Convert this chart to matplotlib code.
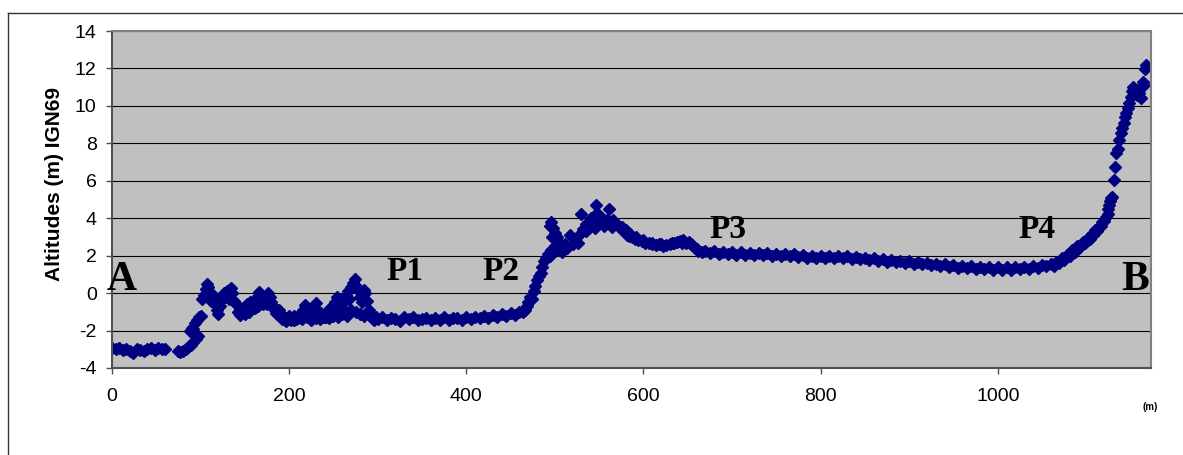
"""
Profil en long A-B, altitudes IGN69
"""
import matplotlib
matplotlib.use('Agg')
from matplotlib import pyplot as plt
from matplotlib.lines import Line2D

plt.rcParams['axes.unicode_minus'] = False

dist = [
    0, 4, 8, 12, 16, 20, 24, 28, 32, 36, 40, 44, 48, 52, 56, 60,
    74, 77, 80, 83, 86, 89, 92, 95, 97,
    88, 90, 92, 94, 96, 98, 100,
    102, 104, 106, 107, 108, 110, 112, 114, 116, 118, 120, 122, 124, 126, 128, 130,
    132, 134, 136, 138, 140, 142, 144, 146, 148, 150, 152, 154, 156, 158, 160, 162,
    164, 166, 168, 170, 172, 174, 176, 178, 180, 182, 184, 186, 188, 190, 192, 194,
    196, 198, 200, 202, 204, 206, 208, 210, 212, 214, 216, 218, 220, 222, 224, 226,
    228, 230, 232, 234, 236, 238, 240, 242, 244, 246, 248, 250, 252, 254, 256, 258,
    260, 262, 264, 266, 268, 270, 272, 274, 276, 278, 280, 282, 284, 286, 288, 290,
    292, 294, 296, 298,
    195, 200, 205, 210, 215, 220, 225, 230, 235, 240, 245, 250, 255, 260, 265, 270,
    275, 280, 285,
    145, 155, 165, 175, 185,
    300, 305, 310, 315, 320, 325, 330, 335, 340, 345, 350, 355, 360, 365, 370, 375,
    380, 385, 390, 395, 400, 405, 410, 415, 420, 425, 430, 435, 440, 445, 450, 455,
    460, 464,
    466, 468, 470, 472, 474, 476, 478, 480, 482, 484, 486, 488, 490, 492, 494, 496,
    498, 500,
    494, 496, 497, 498, 500, 502, 504, 506,
    502, 505, 508, 511, 514, 517, 520, 523, 526, 529, 530, 532, 535, 538, 541, 544,
    546, 548, 550, 553, 556, 559, 561, 563, 566, 569, 572, 575, 578, 581, 584, 587,
    590, 594, 598, 602, 606, 610, 614, 618, 622, 626, 630, 634, 638, 641, 644, 648,
    651, 654, 658, 662, 666,
    576, 580, 585, 592, 600, 610, 620, 632, 645, 655, 660,
    535, 545, 555, 565,
    670, 675, 680, 685, 690, 695, 700, 705, 710, 715, 720, 725, 730, 735, 740, 745,
    750, 755, 760, 765, 770, 775, 780, 785, 790, 795, 800, 805, 810, 815, 820, 825,
    830, 835, 840, 845, 850, 855, 860, 865, 870, 875, 880, 885, 890, 895, 900, 905,
    910, 915, 920, 925, 930, 935, 940, 945, 950, 955, 960, 965, 970, 975, 980, 985,
    990, 995, 1000, 1005, 1010, 1015, 1020, 1025, 1030, 1035, 1040, 1045, 1050, 1055,
    1060, 1063, 1066, 1069, 1072, 1075, 1078, 1081, 1084, 1087, 1090, 1093, 1096, 1099,
    1102, 1104, 1106, 1108, 1110, 1112, 1114, 1116, 1118, 1120, 1122, 1124, 1125, 1126,
    1127, 1128,
    1129, 1131, 1132, 1134, 1136, 1137, 1139, 1140, 1142, 1144, 1145, 1147, 1148, 1150,
    1152, 1153, 1155, 1157, 1159, 1160, 1162, 1164, 1165, 1166, 1167,
]
alt = [
    -2.95, -3.0, -2.95, -3.05, -3.0, -3.1, -3.2, -3.0, -3.05, -3.1, -3.0, -2.95, -3.05, -2.95, -3.0, -3.0,
    -3.1, -3.15, -3.1, -3.0, -2.9, -2.75, -2.6, -2.45, -2.3,
    -2.0, -1.85, -1.9, -1.6, -1.45, -1.3, -1.2,
    -0.3, -0.1, 0.2, 0.5, 0.35, -0.2, -0.4, -0.1, -0.6, -0.9, -1.1, -0.7, -0.3, 0.0, -0.2, 0.1,
    -0.3, 0.25, 0.0, -0.4, -0.6, -1.0, -1.15, -1.0, -0.8, -1.1, -0.6, -0.9, -0.5, -0.7, -0.4, -0.8,
    -0.2, 0.05, -0.3, -0.6, -0.2, -0.5, 0.0, -0.2, -0.5, -0.7, -0.9, -1.1, -0.9, -1.2, -1.4, -1.3,
    -1.5, -1.35, -1.2, -1.45, -1.3, -1.2, -1.4, -1.25, -1.1, -1.35, -0.9, -0.65, -1.0, -1.3, -1.15, -1.4,
    -0.8, -0.55, -0.9, -1.2, -1.05, -1.3, -1.15, -1.3, -1.0, -0.8, -1.1, -1.0, -0.5, -0.2, -0.9, -0.3,
    -0.8, -0.5, -0.1, 0.1, -0.3, 0.3, 0.55, 0.75, 0.4, 0.15, -0.2, -0.5, 0.15, 0.0, -0.4, -0.9,
    -1.2, -1.35, -1.45, -1.3,
    -1.45, -1.4, -1.45, -1.35, -1.4, -1.3, -1.45, -1.35, -1.4, -1.3, -1.35, -1.2, -1.3, -1.1, -1.2, -0.9,
    -1.0, -1.1, -1.2,
    -0.85, -1.0, -0.7, -0.6, -1.05,
    -1.40, -1.28, -1.44, -1.31, -1.37, -1.47, -1.30, -1.40, -1.28, -1.44, -1.36, -1.31, -1.46, -1.33, -1.42, -1.29,
    -1.45, -1.35, -1.31, -1.43, -1.28, -1.38, -1.25, -1.35, -1.22, -1.32, -1.18, -1.27, -1.13, -1.24, -1.08, -1.18,
    -1.03, -1.0,
    -0.9, -0.7, -0.5, -0.2, -0.3, 0.1, 0.4, 0.7, 0.9, 1.1, 1.4, 1.7, 1.9, 2.1, 2.0, 2.3,
    2.2, 2.5,
    3.6, 3.8, 3.0, 3.5, 3.2, 3.0, 2.8, 2.6,
    2.3, 2.5, 2.2, 2.6, 2.4, 3.1, 2.6, 2.8, 2.7, 3.2, 4.2, 3.4, 3.7, 3.5, 4.0, 3.7,
    4.7, 4.3, 3.8, 4.0, 3.7, 3.9, 4.5, 3.8, 3.9, 3.7, 3.6, 3.4, 3.3, 3.1, 3.05, 3.0,
    2.9, 2.85, 2.8, 2.7, 2.65, 2.6, 2.55, 2.6, 2.5, 2.55, 2.6, 2.65, 2.75, 2.8, 2.7, 2.65,
    2.75, 2.6, 2.4, 2.25, 2.2,
    3.55, 3.35, 3.15, 3.0, 2.85, 2.7, 2.62, 2.7, 2.82, 2.55, 2.35,
    3.3, 3.5, 3.6, 3.55,
    2.27, 2.13, 2.24, 2.10, 2.20, 2.08, 2.18, 2.06, 2.17, 2.04, 2.14, 2.03, 2.14, 2.02, 2.12, 2.00,
    2.10, 1.98, 2.09, 1.96, 2.07, 1.94, 2.04, 1.90, 2.00, 1.86, 1.97, 1.85, 1.98, 1.86, 1.99, 1.87,
    1.97, 1.84, 1.94, 1.81, 1.90, 1.76, 1.86, 1.72, 1.82, 1.68, 1.78, 1.64, 1.74, 1.60, 1.70, 1.56,
    1.66, 1.53, 1.62, 1.48, 1.58, 1.44, 1.54, 1.40, 1.50, 1.36, 1.47, 1.33, 1.44, 1.30, 1.42, 1.28,
    1.40, 1.26, 1.38, 1.26, 1.39, 1.26, 1.38, 1.28, 1.40, 1.30, 1.44, 1.36, 1.50, 1.43,
    1.55, 1.45, 1.68, 1.6, 1.85, 1.78, 2.05, 1.98, 2.3, 2.22, 2.5, 2.45, 2.75, 2.68,
    2.95, 2.9, 3.15, 3.1, 3.35, 3.3, 3.55, 3.6, 3.8, 3.85, 4.05, 4.2, 4.5, 4.7,
    4.9, 5.1,
    5.15, 6.05, 6.75, 7.5, 7.7, 8.2, 8.55, 8.8, 9.1, 9.4, 9.6, 9.9, 10.15, 10.5,
    10.8, 11.0, 10.7, 10.6, 10.7, 10.9, 10.4, 11.3, 11.1, 11.95, 12.2,
]

xTicks = [0, 200, 400, 600, 800, 1000]
yTicks = [-4, -2, 0, 2, 4, 6, 8, 10, 12, 14]
labels = ['A', 'P1', 'P2', 'P3', 'P4', 'B']
labelX = [-5.6, 309.6, 418, 674.6, 1023.7, 1139]
labelY = [0.17, 0.70, 0.70, 2.94, 2.94, 0.17]
labelSize = [30, 24, 24, 24, 24, 30]

W, H = 1183, 455
fig = plt.figure(figsize=(W / 100, H / 100), dpi=100)
ax = fig.add_axes([112 / W, 1 - 368 / H, (1151 - 112) / W, (368 - 31) / H])
ax.set_facecolor('#C0C0C0')
ax.set_xlim(0, 1173)
ax.set_ylim(-4, 14)
ax.set_xticks(xTicks)
ax.set_yticks(yTicks)
ax.yaxis.grid(True, color='black', linewidth=0.8)
ax.set_axisbelow(True)
for side in ['top', 'right']:
    ax.spines[side].set_color('#808080')
    ax.spines[side].set_linewidth(1.5)
for side in ['left', 'bottom']:
    ax.spines[side].set_color('#505050')
    ax.spines[side].set_linewidth(1.5)
ax.tick_params(axis='x', direction='out', length=4.5, width=1, color='#505050',
               pad=10, labelsize=14)
ax.tick_params(axis='y', direction='out', length=4, width=1, color='#505050',
               pad=7, labelsize=14)
for t in ax.get_xticklabels() + ax.get_yticklabels():
    t.set_fontfamily('Liberation Sans')

ax.plot(dist, alt, linestyle='none', marker='D', markersize=6.2,
        color='#000080', markeredgecolor='#000080')

for lab, lx, ly, ls in zip(labels, labelX, labelY, labelSize):
    ax.text(lx, ly, lab, fontsize=ls, fontweight='bold', family='Liberation Serif',
            ha='left', va='baseline', clip_on=False)

fig.text(55 / W, 1 - 184 / H, 'Altitudes (m) IGN69', rotation=90, ha='center',
         va='center', fontsize=15, fontweight='bold', family='Liberation Sans')
fig.text(1150 / W, 1 - 407 / H, '(m)', ha='center', va='center', fontsize=7,
         fontweight='bold', family='Liberation Sans')

# cadre de la zone graphique
fig.add_artist(Line2D([8 / W, 8 / W], [0, 1 - 13 / H], color='#333333', linewidth=1))
fig.add_artist(Line2D([8 / W, 1], [1 - 13 / H, 1 - 13 / H], color='#333333', linewidth=1))

plt.savefig('out.png', dpi=100)
